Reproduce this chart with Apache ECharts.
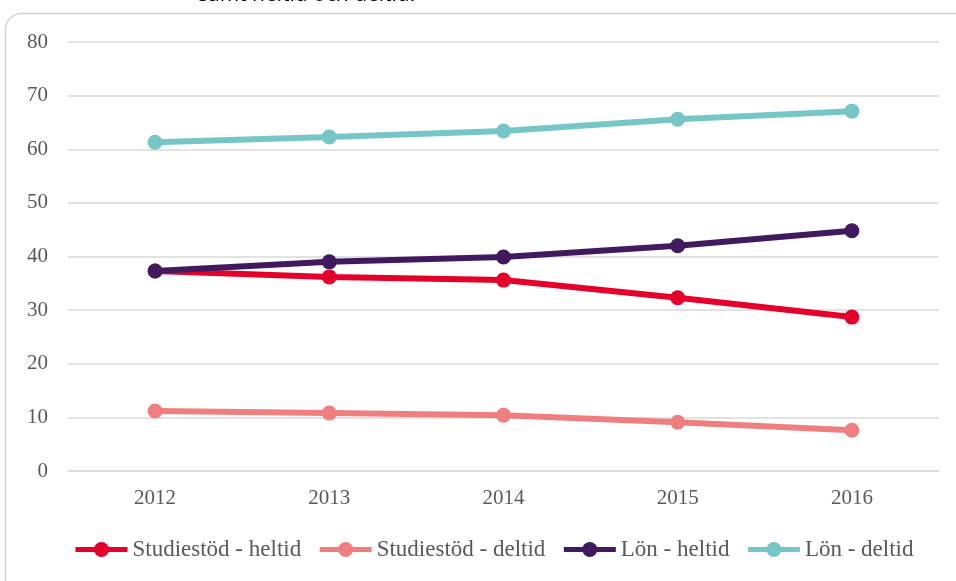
<!DOCTYPE html>
<html><head><meta charset="utf-8">
<script src="https://cdn.jsdelivr.net/npm/echarts@6/dist/echarts.min.js"></script>
<style>html,body{margin:0;padding:0;background:#fff}#c{width:956px;height:581px}</style>
</head><body><div id="c"></div>
<script>
const years = ['2012','2013','2014','2015','2016'];
const studiestodHeltid = [37.3, 36.2, 35.6, 32.3, 28.7];
const studiestodDeltid = [11.2, 10.8, 10.4, 9.1, 7.6];
const lonHeltid = [37.3, 39.0, 39.9, 42.0, 44.8];
const lonDeltid = [61.3, 62.3, 63.4, 65.6, 67.1];
const seriesNames = ['Studiestöd - heltid','Studiestöd - deltid','Lön - heltid','Lön - deltid'];
const colors = ['#e4002b','#ef7f7e','#41195f','#76c6c7'];
const seriesData = [studiestodHeltid, studiestodDeltid, lonHeltid, lonDeltid];
const font = '"Liberation Serif", serif';
const chart = echarts.init(document.getElementById('c'));
chart.setOption({
  animation:false,
  color: colors,
  graphic:[
    {type:'rect', shape:{x:5.5,y:13.5,width:980,height:600,r:16}, style:{fill:'none',stroke:'#d4d4d4',lineWidth:1.5}, z:-1},
    {type:'text', left:198, top:-15, style:{text:'samt heltid och deltid.', font:'21px "Open Sans", sans-serif', fill:'#000'}}
  ],
  grid:{left:68,right:17,top:42,bottom:110},
  legend:{
    bottom:15, left:68, itemWidth:52, itemHeight:19, itemGap:16,
    lineStyle:{width:5},
    textStyle:{fontFamily:font,fontSize:23,color:'#595959'},
    data: seriesNames
  },
  xAxis:{type:'category', data:years, boundaryGap:true,
    axisLine:{lineStyle:{color:'#d9d9d9',width:1.5}}, axisTick:{show:false},
    axisLabel:{fontFamily:font,fontSize:21,color:'#595959',margin:17}},
  yAxis:{type:'value', min:0, max:80, interval:10,
    axisLine:{show:false}, axisTick:{show:false},
    splitLine:{lineStyle:{color:'#d9d9d9',width:1.5}},
    axisLabel:{fontFamily:font,fontSize:21,color:'#595959',margin:20}},
  series: seriesNames.map((n,i)=>({
    name:n, type:'line', data:seriesData[i], symbol:'circle', symbolSize:15,
    lineStyle:{width:6, color:colors[i]}, itemStyle:{color:colors[i]}
  }))
});
</script></body></html>
